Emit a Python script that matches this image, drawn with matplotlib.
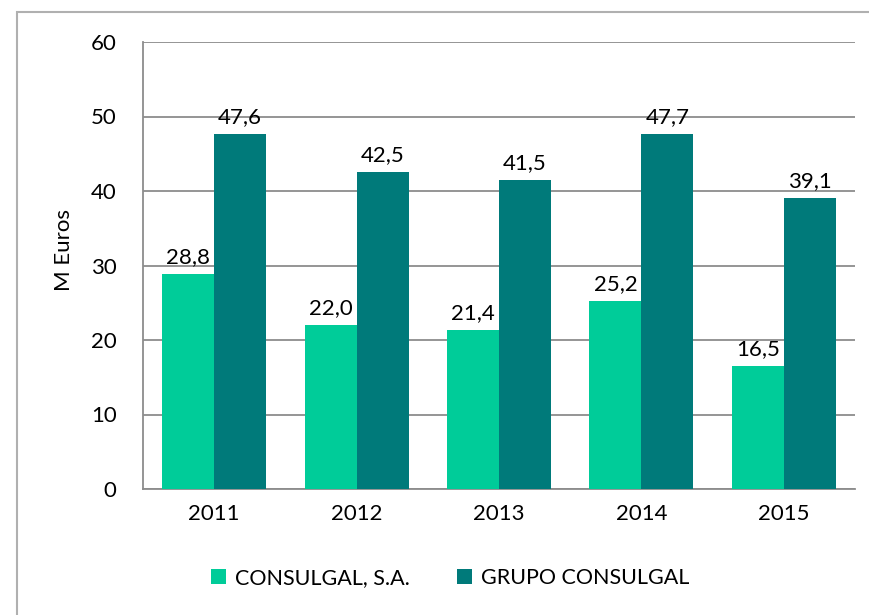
import numpy as np
import matplotlib.pyplot as plt
from matplotlib.patches import Rectangle

plt.rcParams['font.family'] = ['Lato', 'DejaVu Sans']

years = ["2011", "2012", "2013", "2014", "2015"]
consulgal_sa = [28.8, 22.0, 21.4, 25.2, 16.5]
grupo = [47.6, 42.5, 41.5, 47.7, 39.1]
names = ["CONSULGAL, S.A.", "GRUPO CONSULGAL"]
colors = ["#00CC99", "#007A7A"]

fig = plt.figure(figsize=(8.69, 6.15), dpi=100)
ax = fig.add_axes([143 / 869, 1 - 489 / 615, (855 - 143) / 869, (489 - 42) / 615])

# outer frame of the chart area
fig.patches.append(Rectangle((17 / 869, -0.01), 1.0, 1 - 12 / 615 + 0.01,
                             transform=fig.transFigure, fill=False,
                             edgecolor="#B0B0B0", linewidth=1.5))

x = np.arange(len(years))
w = 0.365
b1 = ax.bar(x - w / 2, consulgal_sa, w, color=colors[0], label=names[0], zorder=3)
b2 = ax.bar(x + w / 2, grupo, w, color=colors[1], label=names[1], zorder=3)

for bars, vals in ((b1, consulgal_sa), (b2, grupo)):
    for r, v in zip(bars, vals):
        ax.annotate(f"{v:.1f}".replace(".", ","),
                    (r.get_x() + r.get_width() / 2, v),
                    xytext=(0, 5), textcoords="offset points",
                    ha="center", va="bottom", fontsize=16)

ax.set_xlim(-0.5, len(years) - 0.5)
ax.set_ylim(0, 60)
ax.set_yticks(range(0, 61, 10))
ax.set_xticks(x)
ax.set_xticklabels(years)
ax.tick_params(length=0, labelsize=16, pad=11)
ax.tick_params(axis="y", pad=19)
ax.grid(axis="y", color="#8C8C8C", linewidth=1.3, zorder=0)
for s in ("top", "right"):
    ax.spines[s].set_visible(False)
ax.spines["left"].set_color("#8C8C8C")
ax.spines["bottom"].set_color("#8C8C8C")
ax.spines["left"].set_linewidth(1.3)
ax.spines["bottom"].set_linewidth(1.3)

ax.set_ylabel("M Euros", fontsize=16)
ax.yaxis.set_label_coords(-0.097, 0.535)

fig.legend(loc="center", bbox_to_anchor=(450 / 869, 1 - 578 / 615), ncol=2,
           frameon=False, fontsize=15.5, handlelength=0.7, handleheight=0.7,
           columnspacing=2.2, handletextpad=0.4)

fig.savefig("out.png", dpi=100)
